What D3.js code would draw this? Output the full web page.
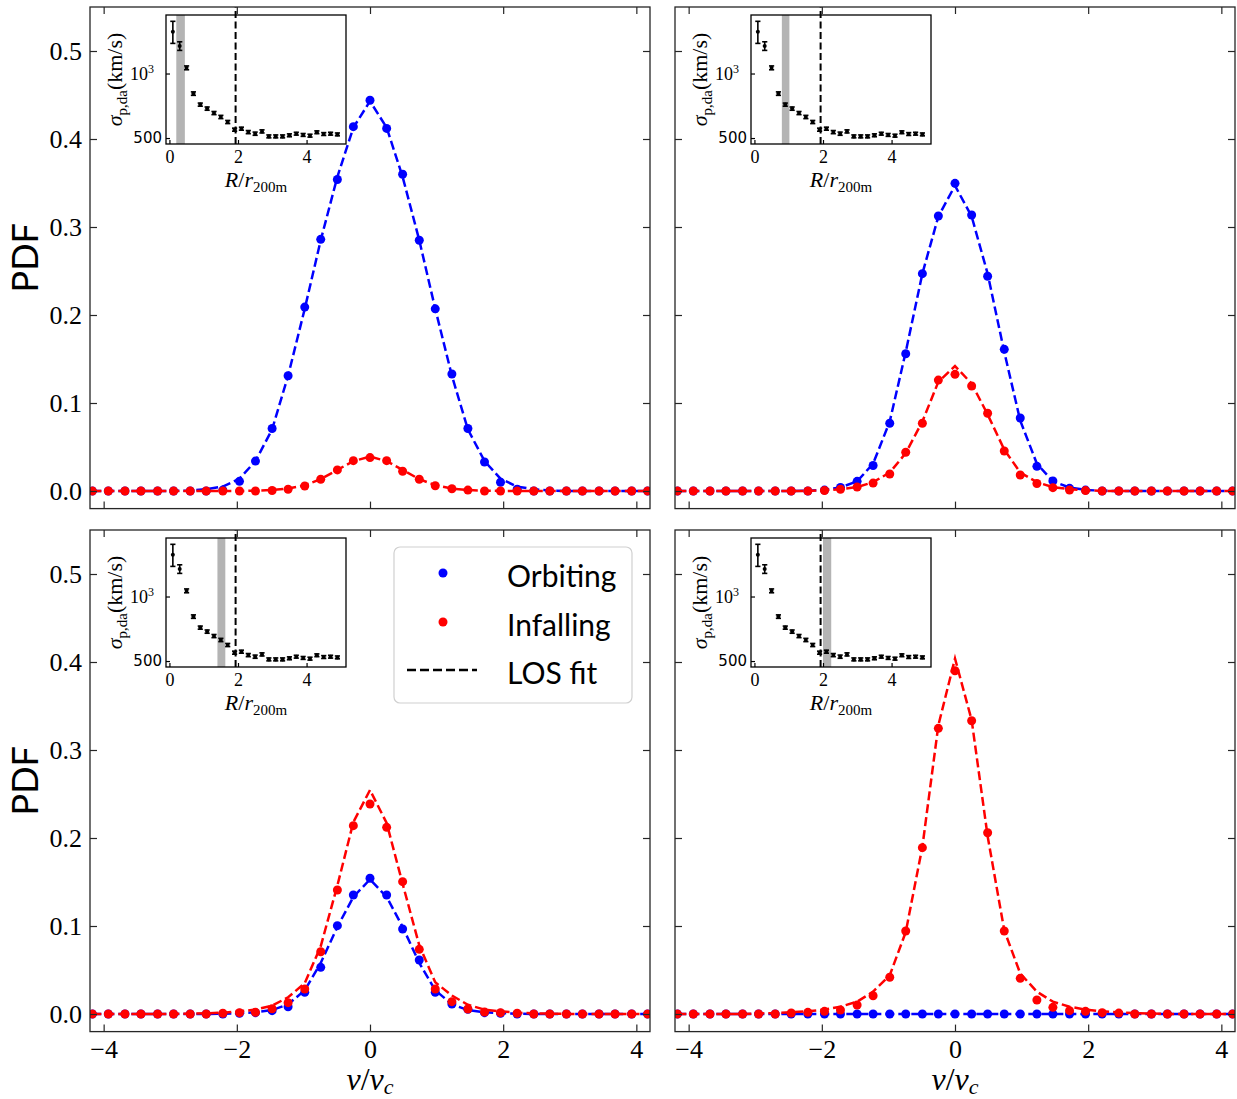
<!DOCTYPE html>
<html><head><meta charset="utf-8">
<script src="https://cdn.jsdelivr.net/npm/d3@7"></script>
<style>body{margin:0;background:#fff}</style>
</head><body><svg id="c" width="1237" height="1099" xmlns="http://www.w3.org/2000/svg"></svg>
<script>
// ---------------- DATA ----------------
const binCenters = [-4.17,-3.93,-3.68,-3.44,-3.19,-2.95,-2.70,-2.46,-2.21,-1.96,-1.72,-1.47,-1.23,-0.98,-0.74,-0.49,-0.25,0,
  0.25,0.49,0.74,0.98,1.23,1.47,1.72,1.96,2.21,2.46,2.70,2.95,3.19,3.44,3.68,3.93,4.17];
const xTicks = [-4,-2,0,2,4];
const yTicks = [0,0.1,0.2,0.3,0.4,0.5];

// Panel A (top-left)
const orbitingA = [0,0,0,0,0,0,0,0, 0.001,0.011,0.034,0.071,0.131,0.209,0.286,0.354,0.414,0.444,0.412,0.360,0.285,0.207,0.133,0.071,0.033,0.010,0.002, 0,0,0,0,0,0,0,0];
const infallingA = [0,0,0,0,0,0,0,0,0,0,0, 0.0006,0.002,0.0057,0.0133,0.024,0.0345,0.038,0.0345,0.0224,0.0133,0.006,0.0025,0.001, 0,0,0,0,0,0,0,0,0,0,0];
const fitOrbitingA = [0,0,0,0,0,0, 0.0005,0.002,0.005,0.014,0.034,0.070,0.131,0.207,0.285,0.357,0.413,0.443,0.413,0.357,0.285,0.207,0.131,0.070,0.034,0.014,0.005,0.002,0.0005, 0,0,0,0,0,0];
const fitInfallingA = [0,0,0,0,0,0,0,0,0,0, 0.0004,0.0011,0.0028,0.0065,0.0135,0.024,0.034,0.039,0.034,0.024,0.0135,0.0065,0.0028,0.0011,0.0004, 0,0,0,0,0,0,0,0,0,0];

// Panel B (top-right)
const orbitingB = [0,0,0,0,0,0,0,0,0, 0.001,0.004,0.011,0.029,0.077,0.156,0.247,0.3125,0.3496,0.3136,0.244,0.161,0.083,0.028,0.0115,0.003,0.001, 0,0,0,0,0,0,0,0,0];
const infallingB = [0,0,0,0,0,0,0,0,0, 0.0006,0.002,0.0045,0.009,0.0193,0.044,0.077,0.126,0.1326,0.1193,0.0883,0.0455,0.0182,0.0085,0.0038,0.0011,0.0005, 0,0,0,0,0,0,0,0,0];
const fitOrbitingB = [0,0,0,0,0,0,0,0, 0.0003,0.0012,0.004,0.011,0.031,0.079,0.158,0.247,0.312,0.347,0.312,0.247,0.158,0.080,0.031,0.011,0.004,0.0012,0.0003, 0,0,0,0,0,0,0,0];
const fitInfallingB = [0,0,0,0,0,0,0,0,0, 0.001,0.002,0.0045,0.010,0.021,0.043,0.079,0.124,0.142,0.122,0.087,0.047,0.021,0.010,0.0045,0.002,0.001, 0,0,0,0,0,0,0,0,0];

// Panel C (bottom-left)
const orbitingC = [0,0,0,0,0,0,0,0,0, 0.0008,0.0015,0.0038,0.0083,0.0246,0.053,0.1004,0.1352,0.1542,0.1352,0.0966,0.0614,0.0246,0.0114,0.0053,0.0015,0.0008, 0,0,0,0,0,0,0,0,0];
const infallingC = [0,0,0,0,0,0,0,0, 0.0008,0.0015,0.0019,0.006,0.0129,0.0284,0.0708,0.1409,0.214,0.2386,0.2121,0.1504,0.0735,0.0284,0.014,0.0057,0.0023,0.0015,0.0008, 0,0,0,0,0,0,0,0];
const fitOrbitingC = [0,0,0,0,0,0,0,0, 0.0004,0.001,0.002,0.0045,0.011,0.027,0.058,0.099,0.133,0.153,0.133,0.099,0.058,0.027,0.011,0.0045,0.002,0.001,0.0004, 0,0,0,0,0,0,0,0];
const fitInfallingC = [0,0,0,0,0,0, 0.0005,0.0008,0.0015,0.003,0.005,0.0095,0.019,0.035,0.077,0.146,0.218,0.2545,0.217,0.148,0.078,0.036,0.021,0.0105,0.005,0.003,0.0015,0.0008,0.0005, 0,0,0,0,0,0];

// Panel D (bottom-right)
const orbitingD = [0,0,0,0,0,0,0,0,0,0,0,0,0,0,0,0,0,0,0,0,0,0,0,0,0,0,0,0,0,0,0,0,0,0,0];
const infallingD = [0,0,0,0,0,0,0, 0.0011,0.0019,0.003,0.0045,0.0102,0.0208,0.0417,0.0943,0.189,0.3246,0.390,0.3333,0.206,0.0943,0.0405,0.0159,0.0076,0.0038,0.003,0.0015,0.001, 0,0,0,0,0,0,0];
const fitOrbitingD = [0,0,0,0,0,0,0,0,0,0,0,0,0,0,0,0,0,0,0,0,0,0,0,0,0,0,0,0,0,0,0,0,0,0,0];
const fitInfallingD = [0,0,0,0,0, 0.0006,0.001,0.002,0.003,0.005,0.0083,0.014,0.0254,0.044,0.093,0.19,0.328,0.404,0.334,0.202,0.095,0.046,0.0254,0.014,0.0083,0.005,0.003,0.002,0.001,0.0006, 0,0,0,0,0];

// Inset profile (same in all panels)
const insetRadius = [0.1,0.3,0.5,0.7,0.9,1.1,1.3,1.5,1.7,1.9,2.1,2.3,2.5,2.7,2.9,3.1,3.3,3.5,3.7,3.9,4.1,4.3,4.5,4.7,4.9];
const insetSigma = [1567,1344,1063,806,716,686,654,627,594,547,553,533,524,537,509,509,509,515,524,517,513,532,522,524,520];
const insetError = [185,62,22,15,12,12,11,11,10,9,9,9,9,9,8,8,8,8,8,8,8,8,8,8,8];
const insetXTicks = [0,2,4];
const insetYTicks = [500,1000];
const insetDashR = 1.93;
const bandA = [0.2,0.45], bandB = [0.8,1.02], bandC = [1.4,1.63], bandD = [2.0,2.24];

const legendLabels = ["Orbiting","Infalling","LOS fit"];

// ---------------- DRAW ----------------
const svg = d3.select('#c');
const BLUE = '#0000ff', RED = '#ff0000';
const SERIF = '"Liberation Serif", "Times New Roman", "DejaVu Serif", serif';
const SANS = 'Lato, "Open Sans", sans-serif';
const W = 560, H = 501.6;
const layout = [[90,7],[675,7],[90,530],[675,530]];
const panels = [
  {orb: orbitingA, inf: infallingA, fo: fitOrbitingA, fi: fitInfallingA, band: bandA},
  {orb: orbitingB, inf: infallingB, fo: fitOrbitingB, fi: fitInfallingB, band: bandB},
  {orb: orbitingC, inf: infallingC, fo: fitOrbitingC, fi: fitInfallingC, band: bandC},
  {orb: orbitingD, inf: infallingD, fo: fitOrbitingD, fi: fitInfallingD, band: bandD}
];

function styleAxis(sel, font, size){
  sel.select('.domain').remove();
  sel.attr('font-family', null).attr('font-size', null);
  sel.style('font-family', font).style('font-size', size+'px');
  sel.selectAll('line').attr('stroke','#262626').attr('stroke-width',1.2);
  sel.selectAll('text').attr('fill','#000').attr('font-family', font).style('font-family', font).style('font-size', size+'px');
}

panels.forEach((p,i)=>{
  const [px,py] = layout[i];
  const col = i%2, row = Math.floor(i/2);
  const g = svg.append('g').attr('transform',`translate(${px},${py})`);
  const x = d3.scaleLinear().domain([-4.205,4.205]).range([0,W]);
  const y = d3.scaleLinear().domain([-0.02,0.55]).range([H,0]);
  const cid = 'clip'+i;
  g.append('clipPath').attr('id',cid).append('rect').attr('width',W).attr('height',H);
  const plot = g.append('g').attr('clip-path',`url(#${cid})`);

  const line = arr => d3.line().x((d,k)=>x(binCenters[k])).y(d=>y(d))(arr);
  const dots = (arr,color)=>plot.append('g').selectAll('circle').data(arr).join('circle')
      .attr('cx',(d,k)=>x(binCenters[k])).attr('cy',d=>y(d)).attr('r',4.5).attr('fill',color);
  const fit = (arr,color)=>plot.append('path').attr('d',line(arr)).attr('fill','none')
      .attr('stroke',color).attr('stroke-width',2.5).attr('stroke-dasharray','9,4');

  dots(p.orb, BLUE);
  fit(p.fo, BLUE);
  dots(p.inf, RED);
  fit(p.fi, RED);

  // frame
  g.append('rect').attr('width',W).attr('height',H).attr('fill','none').attr('stroke','#262626').attr('stroke-width',1.3);

  // axes
  const fmtX = d3.format('d'), fmtY = d3.format('.1f');
  const ab = g.append('g').attr('transform',`translate(0,${H})`)
    .call(d3.axisBottom(x).tickValues(xTicks).tickSizeInner(-7).tickSizeOuter(0).tickPadding(8)
      .tickFormat(row===1 ? fmtX : ()=>''));
  styleAxis(ab, SERIF, 26);
  const at = g.append('g').call(d3.axisTop(x).tickValues(xTicks).tickSizeInner(-7).tickSizeOuter(0).tickFormat(()=>''));
  styleAxis(at, SERIF, 26);
  const al = g.append('g').call(d3.axisLeft(y).tickValues(yTicks).tickSizeInner(-7).tickSizeOuter(0).tickPadding(8)
      .tickFormat(col===0 ? fmtY : ()=>''));
  styleAxis(al, SERIF, 26);
  const ar = g.append('g').attr('transform',`translate(${W},0)`)
    .call(d3.axisRight(y).tickValues(yTicks).tickSizeInner(-7).tickSizeOuter(0).tickFormat(()=>''));
  styleAxis(ar, SERIF, 26);

  if (col===0){
    g.append('text').attr('transform',`translate(-52,${H/2}) rotate(-90)`)
      .attr('text-anchor','middle').style('font-family',SANS).style('font-size','36px').text('PDF');
  }
  if (row===1){
    const t = g.append('text').attr('x',W/2).attr('y',H+58).attr('text-anchor','middle')
      .style('font-family',SERIF).style('font-size','32px');
    t.append('tspan').attr('font-style','italic').text('v');
    t.append('tspan').text('/');
    t.append('tspan').attr('font-style','italic').text('v');
    t.append('tspan').attr('font-style','italic').style('font-size','22px').attr('dy',4).text('c');
  }

  // ---------- inset ----------
  const iw = 180, ih = 129;
  const ig = g.append('g').attr('transform','translate(76,8)');
  const xi = d3.scaleLinear().domain([-0.1,5.15]).range([0,iw]);
  const yi = d3.scaleLog().domain([469,1875]).range([ih,0]);
  ig.append('rect').attr('width',iw).attr('height',ih).attr('fill','#fff');
  ig.append('rect').attr('x',xi(p.band[0])).attr('width',xi(p.band[1])-xi(p.band[0]))
    .attr('height',ih).attr('fill','#b4b4b4');
  const eb = ig.append('g');
  insetRadius.forEach((r,j)=>{
    const cx = xi(r), lo = yi(insetSigma[j]-insetError[j]), hi = yi(insetSigma[j]+insetError[j]);
    eb.append('line').attr('x1',cx).attr('x2',cx).attr('y1',lo).attr('y2',hi).attr('stroke','#000').attr('stroke-width',1.6);
    eb.append('line').attr('x1',cx-2.6).attr('x2',cx+2.6).attr('y1',lo).attr('y2',lo).attr('stroke','#000').attr('stroke-width',1.6);
    eb.append('line').attr('x1',cx-2.6).attr('x2',cx+2.6).attr('y1',hi).attr('y2',hi).attr('stroke','#000').attr('stroke-width',1.6);
    eb.append('circle').attr('cx',cx).attr('cy',yi(insetSigma[j])).attr('r',2).attr('fill','#000');
  });
  ig.append('line').attr('x1',xi(insetDashR)).attr('x2',xi(insetDashR)).attr('y1',ih).attr('y2',-8)
    .attr('stroke','#000').attr('stroke-width',2).attr('stroke-dasharray','7,3.5');
  ig.append('rect').attr('width',iw).attr('height',ih).attr('fill','none').attr('stroke','#000').attr('stroke-width',1.3);

  const ixb = ig.append('g').attr('transform',`translate(0,${ih})`)
    .call(d3.axisBottom(xi).tickValues(insetXTicks).tickSizeInner(-4).tickSizeOuter(0).tickPadding(6).tickFormat(d3.format('d')));
  styleAxis(ixb, SERIF, 18);
  ixb.selectAll('line').attr('stroke','#000');
  const iyl = ig.append('g').call(d3.axisLeft(yi).tickValues(insetYTicks).tickSizeInner(-4).tickSizeOuter(0).tickFormat(()=>''));
  styleAxis(iyl, SERIF, 18);
  iyl.selectAll('line').attr('stroke','#000');
  // y tick labels
  const t3 = ig.append('text').attr('x',-12).attr('y',yi(1000)).attr('dy','0.35em').attr('text-anchor','end')
    .style('font-family',SERIF).style('font-size','18px');
  t3.append('tspan').text('10');
  t3.append('tspan').style('font-size','12px').attr('dy',-7).text('3');
  ig.append('text').attr('x',-4).attr('y',yi(500)).attr('dy','0.36em').attr('text-anchor','end')
    .style('font-family','"DejaVu Sans", sans-serif').style('font-size','15px').text('500');
  // inset labels
  const yl = ig.append('text').attr('transform',`translate(-44,${ih/2}) rotate(-90)`).attr('text-anchor','middle')
    .style('font-family',SERIF).style('font-size','22px');
  yl.append('tspan').attr('font-style','italic').text('σ');
  yl.append('tspan').style('font-size','15px').attr('dy',5).text('p,da');
  yl.append('tspan').attr('dy',-5).text('(km/s)');
  const xl = ig.append('text').attr('x',iw/2).attr('y',ih+43).attr('text-anchor','middle')
    .style('font-family',SERIF).style('font-size','22px');
  xl.append('tspan').attr('font-style','italic').text('R');
  xl.append('tspan').text('/');
  xl.append('tspan').attr('font-style','italic').text('r');
  xl.append('tspan').style('font-size','15px').attr('dy',5).text('200m');
});

// ---------- legend (in bottom-left panel) ----------
const lg = svg.append('g');
lg.append('rect').attr('x',394).attr('y',547).attr('width',238).attr('height',156).attr('rx',6)
  .attr('fill','#fff').attr('fill-opacity',0.8).attr('stroke','#d0d0d0').attr('stroke-width',1.2);
const rowsY = [573, 622, 670];
lg.append('circle').attr('cx',443).attr('cy',rowsY[0]).attr('r',4.5).attr('fill',BLUE);
lg.append('circle').attr('cx',443).attr('cy',rowsY[1]).attr('r',4.5).attr('fill',RED);
lg.append('line').attr('x1',407).attr('x2',477).attr('y1',rowsY[2]).attr('y2',rowsY[2])
  .attr('stroke','#000').attr('stroke-width',2.5).attr('stroke-dasharray','9,4');
legendLabels.forEach((s,k)=>{
  lg.append('text').attr('x',507).attr('y',rowsY[k]+14).style('font-family',SANS).style('font-size','30px').text(s);
});
</script>
</body></html>
